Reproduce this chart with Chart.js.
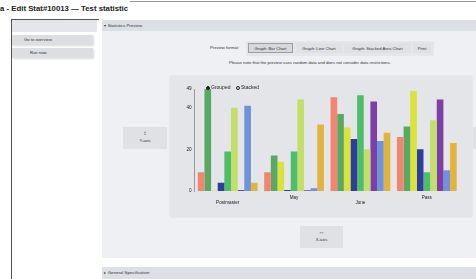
<!DOCTYPE html>
<html>
<head>
<meta charset="utf-8">
<script src="https://cdn.jsdelivr.net/npm/chart.js@4"></script>
<style>
  html, body { margin: 0; padding: 0; }
  body { width: 476px; height: 279px; overflow: hidden; background: #fff; position: relative;
         font-family: "Liberation Sans", Arial, sans-serif; color: #333; }
  .abs { position: absolute; }
  .title { left: 0; top: 4px; font-size: 7.8px; font-weight: bold; color: #222; white-space: nowrap; }
  .topline { left: 130px; top: 1px; width: 346px; height: 1px; background: #999; }
  .frame-left { left: 11px; top: 19px; width: 1px; height: 260px; background: #555; }
  .frame-top { left: 11px; top: 19px; width: 88px; height: 1px; background: #555; }
  .side-head { left: 12px; top: 20px; width: 85px; height: 12px; background: #e4e6e9; }
  .side-btn { left: 12px; width: 81px; height: 10px; background: #dcdee1; font-size: 4.2px;
              line-height: 10px; box-shadow: 1px 1px 2px rgba(0,0,0,0.15); }
  .main-head { left: 102px; top: 20px; width: 374px; height: 11px; background: #dcdfe3;
               font-size: 4.4px; line-height: 11px; }
  .main-body { left: 102px; top: 31px; width: 374px; height: 227px; background: #eef0f3; }
  .gen-head { left: 102px; top: 267px; width: 374px; height: 12px; background: #dcdfe3;
              font-size: 4.4px; line-height: 12px; }
  .fmt-label { left: 210px; top: 45px; font-size: 4.2px; }
  .fmt-group { left: 246px; top: 41px; width: 188px; height: 15px; background: #e4e6e9; }
  .fmt-btn { top: 43px; height: 10px; background: #dfe1e4; font-size: 4.2px; line-height: 10px;
             text-align: center; border: 1px solid transparent; box-sizing: border-box; }
  .fmt-btn.on { border-color: #9a9da2; background: #d6d8dc; }
  .note { left: 160px; width: 300px; top: 60px; font-size: 4.2px; text-align: center; }
  .axis-box { background: #dfe1e4; text-align: center; font-size: 4.2px; }
  .card { left: 170px; top: 76px; width: 302px; height: 141px; background: #e3e5e8;
          border-radius: 2px; box-shadow: 0 0 2px rgba(0,0,0,0.12); }
  .ctrl { font-size: 5px; color: #222; white-space: nowrap; }
  .dot { display: inline-block; width: 4px; height: 4px; border-radius: 50%; box-sizing: border-box;
         border: 0.8px solid #222; vertical-align: -0.5px; margin-right: 1px; }
</style>
</head>
<body>
<div class="abs title">a - Edit Stat#10013 — Test statistic</div>
<div class="abs topline"></div>
<div class="abs frame-left"></div>
<div class="abs frame-top"></div>
<div class="abs side-head"></div>
<div class="abs side-btn" style="top:35px;text-indent:12px">Go to overview</div>
<div class="abs side-btn" style="top:48px;text-indent:18px">Run now</div>

<div class="abs main-head">&nbsp;&nbsp;▾ Statistics Preview</div>
<div class="abs main-body"></div>
<div class="abs fmt-label">Preview format:</div>
<div class="abs fmt-group"></div>
<div class="abs fmt-btn on" style="left:248px;width:45px">Graph: Bar Chart</div>
<div class="abs fmt-btn" style="left:296px;width:46px">Graph: Line Chart</div>
<div class="abs fmt-btn" style="left:344px;width:67px">Graph: Stacked Area Chart</div>
<div class="abs fmt-btn" style="left:413px;width:18px">Print</div>
<div class="abs note">Please note that the preview uses random data and does not consider data restrictions.</div>

<div class="abs axis-box" style="left:123px;top:127px;width:44px;height:22px">
  <div style="font-size:6px;line-height:8px;margin-top:2px">↕</div>
  <div style="line-height:8px">Y-axis</div>
</div>
<div class="abs axis-box" style="left:473px;top:127px;width:10px;height:22px"></div>

<div class="abs card"></div>
<canvas id="previewChart" class="abs" style="left:170px;top:76px" width="302" height="141"></canvas>
<div class="abs ctrl" style="left:206px;top:84px"><span class="dot" style="background:#222"></span>Grouped</div>
<div class="abs ctrl" style="left:236px;top:84px"><span class="dot"></span>Stacked</div>

<div class="abs axis-box" style="left:300px;top:226px;width:43px;height:22px">
  <div style="font-size:6px;line-height:8px;margin-top:2px">↔</div>
  <div style="line-height:8px">X-axis</div>
</div>

<div class="abs gen-head">&nbsp;&nbsp;▸ General Specification</div>

<script>
const categories = ['Postmaster', 'May', 'June', 'Pass'];
const yTicks = [0, 20, 40, 49];

const streamNames = ['Stream0', 'Stream1', 'Stream2', 'Stream3', 'Stream4', 'Stream5', 'Stream6', 'Stream7', 'Stream8'];
const stream0 = [9, 9, 45, 26];
const stream1 = [49, 17, 37, 31];
const stream2 = [0.3, 14, 30.5, 48];
const stream3 = [4, 0.5, 25, 20];
const stream4 = [19, 19, 46, 9];
const stream5 = [40, 44, 20, 34];
const stream6 = [0.5, 0.4, 43, 44];
const stream7 = [41, 1.3, 24, 10];
const stream8 = [4, 32, 28, 23];
const streamColors = ['#f3846f', '#5aa963', '#dce23c', '#2f3e9c', '#4dbf6b', '#c3df68', '#7d3fa7', '#6e93d8', '#e2b33d'];

const streams = [stream0, stream1, stream2, stream3, stream4, stream5, stream6, stream7, stream8];

// staggered x labels: every other label drops one line
const xLabels = categories.map((c, i) => i % 2 ? c : ['', c]);

const previewData = {
    labels: xLabels,
    datasets: streams.map((values, i) => ({
        label: streamNames[i],
        data: values,
        backgroundColor: streamColors[i],
        categoryPercentage: 0.9,
        barPercentage: 1.0
    }))
};

const tickFont = { family: '"Liberation Sans", Arial, sans-serif', size: 4.6, lineHeight: 1.15 };

const previewChartConfig = {
    type: 'bar',
    data: previewData,
    options: {
        responsive: false,
        animation: false,
        layout: {
            padding: { left: 0, right: 12, top: 13, bottom: 0 }
        },
        plugins: {
            legend: { display: false },
            tooltip: { enabled: false }
        },
        scales: {
            x: {
                grid: { display: false, drawTicks: false },
                border: { display: false },
                ticks: { color: '#222', font: tickFont, padding: 4, maxRotation: 0, autoSkip: false },
                afterFit: s => { s.height = 26; }
            },
            y: {
                min: 0,
                max: 49,
                grid: { display: false, drawTicks: false },
                border: { display: true, color: '#9a9a9a', width: 1 },
                ticks: { color: '#222', font: tickFont, padding: 3 },
                afterBuildTicks: s => { s.ticks = yTicks.map(v => ({ value: v })); },
                afterFit: s => { s.width = 24.5; }
            }
        }
    }
};

window.onload = function () {
    const ctx = document.getElementById('previewChart').getContext('2d');
    new Chart(ctx, previewChartConfig);
};
</script>
</body>
</html>
